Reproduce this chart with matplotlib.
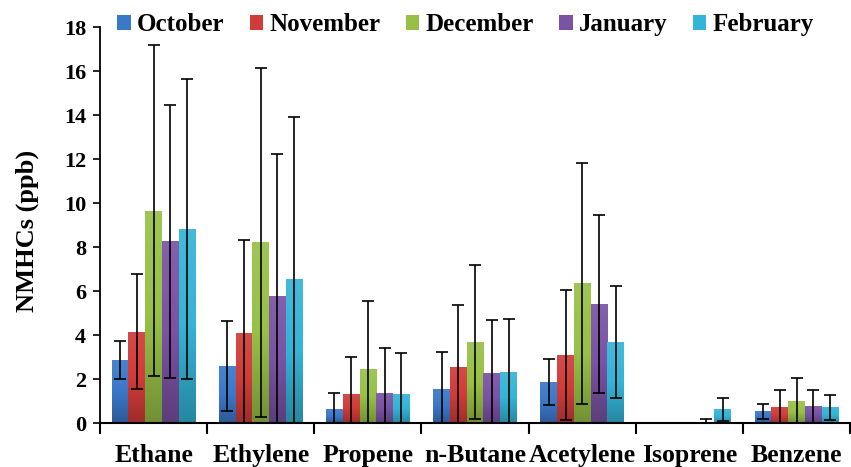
import numpy as np
import matplotlib
matplotlib.use("Agg")
import matplotlib.pyplot as plt
from matplotlib.colors import LinearSegmentedColormap, to_rgb

plt.rcParams['font.family'] = ['Liberation Serif', 'DejaVu Serif']
plt.rcParams['font.weight'] = 'bold'

species = ["Ethane", "Ethylene", "Propene", "n-Butane", "Acetylene", "Isoprene", "Benzene"]
months = ["October", "November", "December", "January", "February"]

october = [2.86, 2.59, 0.62, 1.55, 1.88, 0.0, 0.53]
november = [4.15, 4.08, 1.32, 2.53, 3.08, 0.0, 0.71]
december = [9.65, 8.21, 2.44, 3.68, 6.35, 0.0, 1.00]
january = [8.27, 5.79, 1.35, 2.29, 5.41, 0.03, 0.76]
february = [8.82, 6.53, 1.32, 2.30, 3.68, 0.62, 0.71]

october_sd = [0.85, 2.05, 0.73, 1.66, 1.05, 0.0, 0.34]
november_sd = [2.62, 4.22, 1.69, 2.82, 2.96, 0.0, 0.79]
december_sd = [7.52, 7.92, 3.11, 3.49, 5.47, 0.0, 1.05]
january_sd = [6.21, 6.45, 2.05, 2.41, 4.04, 0.17, 0.74]
february_sd = [6.81, 7.38, 1.85, 2.44, 2.56, 0.53, 0.57]

means = [october, november, december, january, february]
sds = [october_sd, november_sd, december_sd, january_sd, february_sd]
colors = ["#3B78C8", "#D03C3A", "#98C046", "#7953A4", "#34B4D6"]

fig = plt.figure(figsize=(8.51, 4.67), dpi=100)
ax = fig.add_axes([0.1175, 0.0942, 0.8815, 0.8478])

x = np.arange(len(species))
width = 0.156

def shade(c, f):
    r = np.array(to_rgb(c))
    return tuple(np.clip(r * f, 0, 1))

def lighten(c, f):
    r = np.array(to_rgb(c))
    return tuple(np.clip(r + (1 - r) * f, 0, 1))

for i, (m, s, c) in enumerate(zip(means, sds, colors)):
    pos = x + (i - 2) * width
    bars = ax.bar(pos, m, width, color=c, label=months[i], zorder=2, linewidth=0)
    cmap = LinearSegmentedColormap.from_list("g%d" % i, [shade(c, 0.75), c, lighten(c, 0.08)])
    grad = np.linspace(0, 1, 128).reshape(-1, 1)
    for b in bars:
        h = b.get_height()
        if h <= 0:
            continue
        bx = b.get_x()
        im = ax.imshow(grad, extent=(bx, bx + width, 0, h), origin="lower",
                       cmap=cmap, aspect="auto", zorder=2.1, interpolation="bilinear")
        im.set_clip_path(b)
    m_arr = np.array(m)
    s_arr = np.array(s)
    keep = s_arr > 0
    ax.errorbar(pos[keep], m_arr[keep], yerr=s_arr[keep], fmt="none", ecolor="black",
                elinewidth=1.2, capsize=4.5, capthick=1.2, zorder=3)

ax.set_xlim(-0.5, len(species) - 0.5)
ax.set_ylim(0, 18)
ax.set_yticks(np.arange(0, 19, 2))
ax.tick_params(axis="y", labelsize=16, direction="out", length=5, width=1.2, pad=5)

ax.set_xticks(np.arange(-0.5, len(species), 1.0))
ax.set_xticklabels([])
ax.tick_params(axis="x", direction="out", length=8, width=1.5)
ax.set_xticks(x, minor=True)
ax.set_xticklabels(species, minor=True, fontsize=18.5, fontweight="bold")
ax.tick_params(axis="x", which="minor", length=0, pad=15)

for sp in ["top", "right"]:
    ax.spines[sp].set_visible(False)
ax.spines["left"].set_linewidth(1.3)
ax.spines["bottom"].set_linewidth(1.5)

ax.set_ylabel("NMHCs (ppb)", fontsize=19, fontweight="bold")
ax.yaxis.set_label_coords(-0.0815, 0.485)

fig.legend(loc="upper center", bbox_to_anchor=(0.547, 1.02), ncol=5, frameon=False,
           handlelength=0.55, handleheight=0.55, handletextpad=0.25,
           columnspacing=1.0, prop={"weight": "bold", "size": 18})

fig.savefig("out.png", dpi=100)
